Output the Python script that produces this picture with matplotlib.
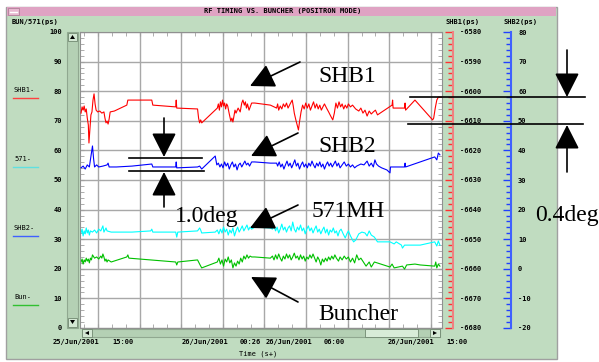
import matplotlib
matplotlib.use('Agg')
import matplotlib.pyplot as plt
from matplotlib.patches import Rectangle, Polygon, FancyArrowPatch
from matplotlib.lines import Line2D
from matplotlib.ticker import MultipleLocator, StrMethodFormatter

plt.rcParams['font.family'] = 'DejaVu Sans Mono'
plt.rcParams['font.weight'] = 'bold'
plt.rcParams['font.size'] = 5
plt.rcParams['axes.unicode_minus'] = False

W, H = 599, 362
PT = 72 / 100  # pixels -> points

# time in hours from the left edge of the plot
t_shb1 = [0.1, 0.2, 0.3, 0.4, 0.5, 0.6, 0.7, 0.8, 0.86, 0.95, 1.05, 1.15, 1.25, 1.35, 1.45, 1.55, 1.7, 1.9,
          2.1, 2.3, 2.4, 2.5, 2.6, 2.7, 2.8, 2.9, 3.3, 4.5, 4.6, 6.9, 7.0, 9.2, 9.25, 9.3, 11.3, 11.4, 11.5,
          11.6, 11.7, 13.2, 13.3, 13.4, 13.5, 13.6, 13.7, 13.8, 13.9, 14.0, 14.1, 14.2, 14.35, 14.5, 14.6,
          14.7, 14.8, 14.9, 15.0, 15.2, 15.4, 15.55, 15.66, 15.8, 15.9, 16.0, 16.1, 16.25, 16.4, 16.5, 16.8,
          18.3, 18.9, 19.0, 19.1, 19.25, 19.4, 19.55, 19.7, 19.85, 20.0, 20.2, 20.4, 20.5, 20.6, 20.75, 20.9,
          21.0, 21.1, 21.25, 21.4, 21.55, 21.7, 21.85, 22.0, 22.15, 22.3, 22.45, 22.6, 22.75, 22.9, 23.05,
          23.2, 23.35, 23.5, 23.7, 23.9, 24.1, 24.3, 24.45, 24.6, 24.75, 24.9, 25.05, 25.2, 25.35, 25.5,
          25.65, 25.8, 26.0, 26.2, 26.5, 26.8, 27.0, 27.2, 27.4, 27.6, 27.8, 28.0, 28.2, 28.4, 28.6, 30.0,
          30.05, 30.1, 31.2, 31.25, 31.3, 32.2, 33.9, 34.0, 34.15, 34.3, 34.45, 34.7]
shb1 = [-6607.4, -6605.3, -6606.4, -6605.0, -6607.0, -6606.0, -6609.1, -6611.4, -6617.5, -6613.1, -6608.0,
        -6607.0, -6603.0, -6600.9, -6604.3, -6606.4, -6607.0, -6606.7, -6607.4, -6607.0, -6609.1, -6610.7,
        -6610.1, -6611.1, -6609.4, -6607.0, -6606.7, -6604.7, -6603.0, -6603.0, -6604.7, -6605.3, -6603.0,
        -6605.7, -6606.0, -6609.1, -6610.7, -6609.7, -6610.7, -6605.7, -6604.3, -6606.4, -6603.6, -6605.3,
        -6603.0, -6605.0, -6604.0, -6606.0, -6604.3, -6605.0, -6607.7, -6610.1, -6609.1, -6610.4, -6608.4,
        -6606.4, -6607.4, -6605.7, -6607.0, -6604.0, -6603.0, -6604.7, -6603.6, -6605.7, -6604.3, -6606.4,
        -6605.0, -6604.0, -6604.0, -6604.7, -6605.7, -6604.3, -6606.4, -6605.0, -6606.0, -6604.3, -6605.3,
        -6604.0, -6605.7, -6604.3, -6603.0, -6605.0, -6607.4, -6609.7, -6611.8, -6613.1, -6610.4, -6607.0,
        -6604.7, -6606.0, -6604.0, -6605.7, -6604.3, -6606.4, -6605.0, -6603.6, -6605.7, -6604.3, -6606.0,
        -6604.7, -6606.4, -6605.3, -6604.3, -6605.7, -6607.0, -6608.4, -6609.7, -6607.4, -6604.0, -6605.7,
        -6603.6, -6605.3, -6604.3, -6606.0, -6604.7, -6605.7, -6604.3, -6605.3, -6604.7, -6606.0, -6606.7,
        -6605.7, -6607.4, -6606.4, -6608.4, -6606.7, -6607.7, -6607.0, -6606.4, -6608.0, -6604.7, -6603.0,
        -6605.7, -6605.7, -6604.0, -6606.4, -6603.0, -6609.7, -6609.1, -6605.7, -6603.0, -6602.0, -6602.0]

t_shb2 = [0.1, 0.3, 0.5, 0.7, 0.9, 1.0, 1.2, 1.3, 1.4, 1.6, 1.8, 2.2, 2.6, 2.7, 2.8, 3.5, 5.0, 6.9, 7.0, 9.2,
          9.25, 9.3, 11.3, 11.5, 11.7, 13.0, 13.15, 13.3, 13.45, 13.6, 13.75, 13.9, 14.05, 14.2, 14.35, 14.5,
          14.65, 14.8, 14.95, 15.1, 15.25, 15.4, 15.55, 15.7, 15.85, 16.0, 16.15, 16.3, 16.5, 16.8, 18.3,
          18.9, 19.0, 19.15, 19.3, 19.45, 19.6, 19.75, 19.9, 20.05, 20.2, 20.35, 20.5, 20.65, 20.8, 20.95,
          21.1, 21.25, 21.4, 21.55, 21.7, 21.85, 22.0, 22.15, 22.3, 22.45, 22.6, 22.75, 22.9, 23.05, 23.2,
          23.35, 23.5, 23.65, 23.8, 23.95, 24.1, 24.25, 24.4, 24.55, 24.7, 24.85, 25.0, 25.2, 25.4, 25.6,
          25.8, 26.0, 26.2, 26.4, 26.6, 27.0, 27.3, 27.6, 27.8, 28.0, 28.2, 28.35, 28.5, 28.7, 29.0, 29.5,
          29.8, 29.85, 30.5, 31.2, 31.25, 31.3, 34.1, 34.3, 34.45, 34.6]
shb2 = [34.1, 34.7, 33.7, 35.1, 34.4, 36.8, 41.5, 37.4, 34.4, 35.1, 34.4, 34.7, 35.1, 35.7, 34.4, 34.4, 34.7,
        35.4, 34.4, 34.4, 36.1, 34.1, 34.4, 34.7, 33.7, 38.1, 35.1, 35.7, 34.4, 35.4, 34.1, 36.1, 34.7, 35.7,
        33.7, 35.1, 36.1, 34.4, 35.4, 33.4, 35.1, 35.7, 34.4, 35.4, 36.4, 35.1, 35.7, 34.7, 36.1, 36.1, 35.7,
        35.7, 34.7, 36.1, 34.4, 35.4, 33.7, 35.1, 36.4, 34.7, 35.7, 34.1, 35.4, 36.8, 34.7, 35.7, 33.7, 35.1,
        36.1, 34.4, 35.4, 34.1, 35.7, 34.7, 36.4, 35.1, 34.1, 35.7, 34.7, 36.1, 34.4, 35.4, 33.7, 35.1, 36.1,
        34.7, 35.7, 34.4, 35.4, 36.4, 34.7, 35.7, 34.1, 35.1, 36.1, 34.7, 35.4, 34.4, 35.1, 34.1, 34.7, 35.4,
        35.1, 36.4, 34.7, 35.7, 34.4, 36.8, 35.4, 34.7, 34.1, 33.4, 32.4, 34.4, 34.4, 34.4, 35.7, 34.4, 37.8,
        36.8, 39.1, 38.5]

t_571 = [0.1, 0.2, 0.3, 0.4, 0.5, 0.6, 0.7, 0.8, 0.9, 1.0, 1.2, 1.4, 1.6, 1.8, 2.0, 2.2, 2.3, 2.5, 2.6, 3.0,
         5.0, 6.8, 6.9, 7.0, 9.2, 9.3, 9.4, 11.3, 11.5, 11.6, 11.7, 13.0, 13.2, 13.35, 13.5, 13.65, 13.8,
         13.95, 14.1, 14.25, 14.4, 14.55, 14.7, 14.85, 15.0, 15.15, 15.3, 15.45, 15.6, 15.75, 15.9, 16.05,
         16.2, 16.35, 16.5, 16.8, 18.3, 18.5, 18.65, 18.8, 18.95, 19.1, 19.25, 19.4, 19.55, 19.7, 19.85,
         20.0, 20.15, 20.3, 20.45, 20.6, 20.75, 20.9, 21.05, 21.2, 21.35, 21.5, 21.65, 21.8, 21.95, 22.1,
         22.25, 22.4, 22.55, 22.7, 22.85, 23.0, 23.15, 23.3, 23.45, 23.6, 23.75, 23.9, 24.05, 24.2, 24.35,
         24.5, 24.65, 24.8, 24.95, 25.1, 25.3, 25.5, 25.65, 25.8, 26.0, 26.3, 26.5, 26.8, 27.1, 27.4, 27.6,
         27.8, 28.0, 28.3, 28.6, 29.8, 30.2, 30.4, 30.9, 31.0, 31.2, 32.7, 34.1, 34.3, 34.45, 34.6]
v571 = [32.1, 33.4, 31.1, 32.8, 31.8, 33.8, 32.1, 33.1, 31.4, 32.8, 32.4, 33.1, 32.1, 33.4, 32.8, 34.5, 32.4,
        33.8, 32.8, 32.4, 32.4, 32.8, 33.4, 32.4, 32.4, 30.7, 32.4, 32.8, 33.8, 33.1, 32.1, 32.4, 33.1, 31.8,
        33.4, 32.1, 34.1, 32.4, 33.4, 31.4, 33.1, 32.1, 33.8, 31.1, 32.8, 34.1, 32.4, 33.4, 34.5, 32.8, 33.8,
        34.8, 33.1, 34.1, 33.4, 34.1, 33.8, 33.4, 34.5, 32.8, 34.1, 32.1, 33.4, 35.1, 33.1, 34.1, 32.4, 33.8,
        34.5, 32.8, 35.8, 33.4, 32.4, 34.1, 33.1, 34.8, 32.8, 33.8, 31.8, 33.4, 34.5, 32.8, 33.8, 32.1, 33.4,
        34.5, 32.4, 33.4, 31.8, 33.1, 34.1, 32.1, 33.4, 31.4, 33.1, 32.4, 33.8, 32.1, 32.8, 31.1, 32.8, 33.4,
        31.8, 30.4, 31.8, 32.8, 31.1, 29.1, 29.7, 31.8, 32.4, 32.1, 31.1, 32.8, 31.4, 30.7, 29.1, 29.1, 28.4,
        29.1, 28.0, 27.0, 28.0, 28.0, 29.1, 27.7, 29.4, 28.0]

t_bun = [0.1, 0.2, 0.3, 0.4, 0.5, 0.6, 0.7, 0.8, 0.9, 1.0, 1.1, 1.2, 1.4, 1.6, 1.8, 2.0, 2.1, 2.2, 2.3, 2.4,
         2.5, 2.6, 2.7, 3.0, 4.5, 4.6, 4.7, 9.2, 9.3, 9.4, 11.3, 11.5, 11.7, 13.2, 13.35, 13.5, 13.65, 13.8,
         13.95, 14.1, 14.25, 14.4, 14.55, 14.7, 14.85, 15.0, 15.15, 15.3, 15.45, 15.6, 15.75, 15.9, 16.05,
         16.2, 16.35, 16.5, 16.8, 18.3, 18.5, 18.65, 18.8, 18.95, 19.1, 19.25, 19.4, 19.55, 19.7, 19.85,
         20.0, 20.15, 20.3, 20.45, 20.6, 20.75, 20.9, 21.05, 21.2, 21.35, 21.5, 21.65, 21.8, 21.95, 22.1,
         22.25, 22.4, 22.55, 22.7, 22.85, 23.0, 23.15, 23.3, 23.45, 23.6, 23.75, 23.9, 24.05, 24.2, 24.35,
         24.5, 24.65, 24.85, 25.0, 25.2, 25.4, 25.6, 25.8, 26.0, 26.2, 26.4, 26.6, 26.8, 27.0, 27.3, 27.5,
         27.8, 28.0, 28.3, 29.8, 30.0, 30.2, 31.0, 31.2, 31.4, 32.2, 32.7, 34.1, 34.2, 34.3, 34.45, 34.6]
bun = [22.3, 23.3, 21.6, 23.0, 22.3, 23.6, 22.6, 23.3, 22.0, 23.6, 23.0, 24.7, 23.6, 24.0, 23.3, 24.3, 23.6,
       25.0, 24.0, 22.6, 23.3, 22.3, 23.0, 22.3, 24.0, 24.7, 23.6, 22.3, 21.3, 22.3, 23.0, 21.6, 20.3, 22.3,
       23.6, 21.6, 23.0, 20.9, 23.3, 22.3, 24.0, 22.0, 23.0, 20.3, 22.0, 20.9, 22.6, 21.6, 23.6, 22.3, 24.3,
       23.3, 24.7, 23.6, 24.3, 24.0, 24.0, 23.6, 24.3, 23.0, 24.7, 23.3, 25.0, 23.6, 22.6, 24.3, 23.3, 25.0,
       23.6, 24.7, 23.0, 24.0, 25.3, 23.6, 24.3, 23.0, 24.7, 23.3, 24.3, 22.6, 24.0, 23.3, 24.7, 23.6, 25.0,
       23.6, 22.3, 24.0, 23.0, 21.3, 23.3, 22.3, 23.6, 22.6, 24.0, 23.0, 24.3, 23.3, 24.7, 23.6, 22.6, 24.0,
       23.0, 24.3, 23.3, 24.0, 22.3, 23.6, 22.0, 24.7, 23.0, 23.6, 22.0, 20.9, 22.3, 20.6, 22.3, 20.6, 21.6,
       20.3, 20.9, 19.9, 21.3, 21.6, 21.3, 20.9, 22.3, 20.3, 21.6, 20.9]

time_labels = ['25/Jun/2001', '15:00', '26/Jun/2001', '00:26', '26/Jun/2001', '06:00', '26/Jun/2001', '15:00']
time_label_x = [53, 112, 182, 240, 266, 324, 388, 446]


def P(x, y):
    # screen pixel -> figure fraction
    return (x / W, 1 - y / H)


def box(x0, y0, x1, y1, z=2, **kw):
    fig.add_artist(Rectangle(P(x0, y1), (x1 - x0) / W, (y1 - y0) / H, transform=fig.transFigure,
                             zorder=z, **kw))


def hline(x0, x1, y, **kw):
    fig.add_artist(Line2D([x0 / W, x1 / W], [1 - y / H] * 2, transform=fig.transFigure, zorder=5, **kw))


def arrow(x0, y0, x1, y1):
    fig.add_artist(FancyArrowPatch(P(x0, y0), P(x1, y1), transform=fig.transFigure,
                                   arrowstyle='-|>,head_length=0.75,head_width=0.38', mutation_scale=20,
                                   color='black', lw=1.2, shrinkA=0, shrinkB=0, zorder=5))


def tri(pts):
    fig.add_artist(Polygon([P(x, y) for x, y in pts], closed=True, transform=fig.transFigure,
                           color='black', lw=0, zorder=3))


fig = plt.figure(figsize=(W / 100, H / 100), dpi=100)
fig.patch.set_facecolor('white')

# window background + title bar (behind the axes)
box(6, 7, 557, 359, z=-10, facecolor='#c0dcc0', edgecolor='#a0a0a0', lw=1)
box(7, 7, 556, 16, z=-9, facecolor='#dfa3c3', edgecolor='none')
box(8, 8, 19, 15, facecolor='#e8b8d0', edgecolor='#b08098', lw=0.6)
hline(10, 17, 11.5, color='white', lw=1)
fig.text(283 / W, 1 - 11.5 / H, 'RF TIMING VS. BUNCHER (POSITRON MODE)', ha='center', va='center', fontsize=5)

ax = fig.add_axes([80 / W, 1 - 328 / H, 362 / W, 296 / H])
ax.set_facecolor('white')
ax.plot(t_571, v571, color='#00ffff', lw=0.8)
ax.plot(t_bun, bun, color='#00c000', lw=0.8)
ax.set_xlim(0, 34.8)
ax.set_ylim(0, 100)

ax1 = ax.twinx()
ax1.plot(t_shb1, shb1, color='#ff0000', lw=0.8)
ax1.set_ylim(-6680, -6580)

ax2 = ax.twinx()
ax2.plot(t_shb2, shb2, color='#0000ff', lw=0.8)
ax2.set_ylim(-20, 80)

ax.xaxis.set_major_locator(MultipleLocator(4, offset=1.73))
ax.xaxis.set_minor_locator(MultipleLocator(4 / 3, offset=1.73))
ax.yaxis.set_major_locator(MultipleLocator(10))
ax.yaxis.set_minor_locator(MultipleLocator(2))
ax.grid(True, which='major', color='#a8a8a8', lw=1)
ax.tick_params(axis='x', which='both', direction='in', top=True, bottom=True, labelbottom=False,
               length=4 * PT, color='#a0a0a0')
ax.tick_params(axis='y', which='both', direction='in', left=True, right=True, length=4 * PT,
               color='#a0a0a0', pad=18 * PT)
for s in ax.spines.values():
    s.set_color('#909090')

for a, col, sc, off in [(ax1, '#ff3030', '#f08080', 11), (ax2, '#2040ff', '#4060ff', 69)]:
    for s in ['left', 'top', 'bottom']:
        a.spines[s].set_visible(False)
    a.spines['right'].set_position(('outward', off * PT))
    a.spines['right'].set_color(sc)
    a.spines['right'].set_linewidth(1.5)
    a.yaxis.set_major_locator(MultipleLocator(10))
    a.yaxis.set_minor_locator(MultipleLocator(2))
    a.yaxis.set_major_formatter(StrMethodFormatter('{x:.0f}'))
    a.tick_params(axis='y', which='major', direction='in', length=8 * PT, width=1, color=col, pad=7 * PT)
    a.tick_params(axis='y', which='minor', direction='in', length=5 * PT, width=1, color=col)

# axis headers
fig.text(12 / W, 1 - 22 / H, 'BUN/571(ps)', ha='left', va='center', fontsize=5)
fig.text(462 / W, 1 - 22 / H, 'SHB1(ps)', ha='center', va='center', fontsize=5)
fig.text(520 / W, 1 - 22 / H, 'SHB2(ps)', ha='center', va='center', fontsize=5)

# trace labels on the left
for name, y, col in [('SHB1-', 90, '#ff4040'), ('571-', 159, '#60e0e0'),
                     ('SHB2-', 228, '#4060ff'), ('Bun-', 297, '#30c030')]:
    fig.text(14 / W, 1 - y / H, name, ha='left', va='center', fontsize=5, fontweight='normal')
    hline(13, 38, y + 8, color=col, lw=1)

# vertical scroll bar
box(67, 32, 78, 328, facecolor='#b4d0b4', edgecolor='#90a890', lw=0.8)
box(68, 33, 77, 41, facecolor='#d4e8d4', edgecolor='#708870', lw=0.6)
box(68, 318, 77, 327, facecolor='#d4e8d4', edgecolor='#708870', lw=0.6)
tri([(70, 39), (75, 39), (72.5, 35)])
tri([(70, 320), (75, 320), (72.5, 324)])

# horizontal scroll bar
box(82, 329, 440, 337, facecolor='#b4d0b4', edgecolor='#90a890', lw=0.8)
box(82, 329, 92, 337, facecolor='#d4e8d4', edgecolor='#708870', lw=0.6)
box(430, 329, 440, 337, facecolor='#d4e8d4', edgecolor='#708870', lw=0.6)
box(365, 329, 418, 337, facecolor='#d8ecd8', edgecolor='#708870', lw=0.6)
tri([(89, 331), (89, 335), (85, 333)])
tri([(433, 331), (433, 335), (437, 333)])

for lab, x in zip(time_labels, time_label_x):
    fig.text(x / W, 1 - 342 / H, lab, ha='left', va='center', fontsize=5)
fig.text(258 / W, 1 - 354 / H, 'Time (s+)', ha='center', va='center', fontsize=5, fontweight='normal')

# hand-drawn annotations
serif = dict(family='Liberation Serif', fontweight='normal', fontsize=17, va='baseline', ha='left', zorder=6)
fig.text(318 / W, 1 - 82 / H, 'SHB1', **serif)
fig.text(318 / W, 1 - 152 / H, 'SHB2', **serif)
fig.text(312 / W, 1 - 217 / H, '571MH', **serif)
fig.text(318 / W, 1 - 320 / H, 'Buncher', **serif)
fig.text(175 / W, 1 - 222 / H, '1.0deg', **serif)
fig.text(535 / W, 1 - 221 / H, '0.4deg', **serif)

arrow(300, 62, 250, 86)
arrow(298, 133, 251, 156)
arrow(298, 205, 250, 228)
arrow(298, 302, 251, 277)
arrow(164, 118, 164, 157)
arrow(164, 207, 164, 172)
arrow(567, 50, 567, 97)
arrow(567, 172, 567, 125)
hline(129, 202, 158, color='black', lw=1.2)
hline(129, 204, 171, color='black', lw=1.2)
hline(410, 585, 97, color='black', lw=1.2)
hline(408, 583, 124, color='black', lw=1.2)

fig.savefig('out.png', dpi=100)
